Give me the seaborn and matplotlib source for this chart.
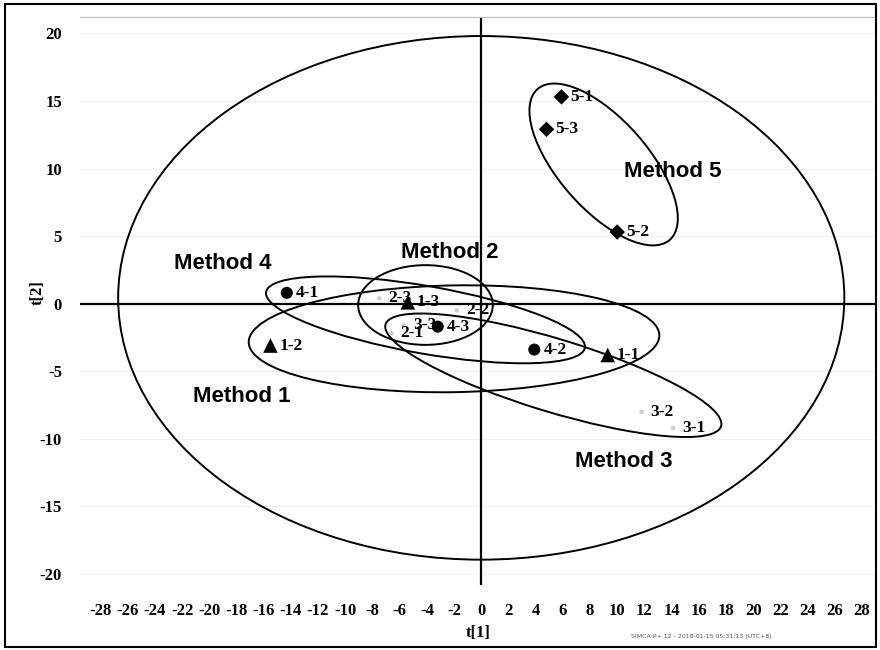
import matplotlib
matplotlib.use('Agg')
import matplotlib.pyplot as plt
from matplotlib.patches import Ellipse, Rectangle
import seaborn as sns
import pandas as pd

# scores
labels = ['1-1', '1-2', '1-3', '2-1', '2-2', '2-3', '3-1', '3-2', '3-3',
          '4-1', '4-2', '4-3', '5-1', '5-2', '5-3']
methods = ['1'] * 3 + ['2'] * 3 + ['3'] * 3 + ['4'] * 3 + ['5'] * 3
t1 = [9.3, -15.5, -5.4, -6.6, -1.8, -7.5, 14.1, 11.8, -5.7,
      -14.3, 3.9, -3.2, 5.9, 10.0, 4.8]
t2 = [-3.8, -3.1, 0.1, -2.2, -0.5, 0.4, -9.2, -8.0, -1.6,
      0.8, -3.4, -1.7, 15.3, 5.3, 12.9]

# ellipses: Hotelling T2, then methods 1-5 (centre, full width, full height, angle)
ell_cx = [0.0, -2.0, -4.1, 5.3, -4.1, 9.0]
ell_cy = [0.43, -2.6, -0.1, -5.3, -1.2, 10.3]
ell_w = [53.4, 30.2, 9.9, 25.8, 23.8, 14.8]
ell_h = [38.75, 7.9, 5.9, 5.4, 5.0, 6.6]
ell_ang = [0, 1, 0, -17, -10, -49]

group_names = ['Method 1', 'Method 2', 'Method 3', 'Method 4', 'Method 5']
group_x = [-17.6, -2.3, 10.5, -19.0, 14.1]
group_y = [-6.9, 3.75, -11.7, 3.0, 9.8]

xticks = list(range(-28, 29, 2))
yticks = list(range(-20, 21, 5))

df = pd.DataFrame({'t1': t1, 't2': t2, 'label': labels, 'method': methods})

sns.set_style('white')
fig = plt.figure(figsize=(8.8, 6.5), dpi=100)
ax = fig.add_axes([0.091, 0.1, 0.904, 0.874])

marker_map = {'1': '^', '2': 'o', '3': 'o', '4': 'o', '5': 'D'}
color_map = {'1': 'black', '2': '#d0d0d0', '3': '#d0d0d0', '4': 'black', '5': 'black'}
size_map = {'1': 110, '2': 12, '3': 12, '4': 75, '5': 62}

sns.scatterplot(data=df, x='t1', y='t2', hue='method', style='method', size='method',
                markers=marker_map, palette=color_map, sizes=size_map,
                edgecolor='none', legend=False, ax=ax, zorder=4)

for x, y, lab in zip(t1, t2, labels):
    ax.annotate(lab, (x, y), xytext=(6.5, 0), textcoords='offset points',
                va='center', ha='left', fontsize=12.5, family='Liberation Serif',
                fontweight='bold', color='black', zorder=5)

for cx, cy, w, h, a in zip(ell_cx, ell_cy, ell_w, ell_h, ell_ang):
    ax.add_patch(Ellipse((cx, cy), w, h, angle=a, fill=False, lw=1.4,
                         edgecolor='black', zorder=3))

for name, x, y in zip(group_names, group_x, group_y):
    ax.text(x, y, name, ha='center', va='center', fontsize=16, fontweight='bold',
            family='Liberation Sans', color='black', zorder=6)

ax.axhline(0, color='black', lw=1.6, zorder=2)
ax.axvline(0, color='black', lw=1.6, zorder=2)

ax.set_xlim(-29.5, 29.0)
ax.set_ylim(-20.82, 21.22)
ax.set_xticks(xticks)
ax.set_yticks(yticks)
ax.set_xticklabels([str(v) for v in xticks], family='Liberation Serif',
                   fontweight='bold', fontsize=12, color='black')
ax.set_yticklabels([str(v) for v in yticks], family='Liberation Serif',
                   fontweight='bold', fontsize=12, color='black')
ax.tick_params(axis='both', length=3, color='#aaaaaa', pad=10)
ax.grid(axis='y', color='#f2f2f2', lw=0.8)
ax.set_axisbelow(True)

ax.set_xlabel('t[1]', family='Liberation Serif', fontsize=12, fontweight='bold',
              labelpad=4, color='black')
ax.set_ylabel('t[2]', family='Liberation Serif', fontsize=12, fontweight='bold',
              color='black')
ax.yaxis.set_label_coords(-0.043, 0.515)

for s in ['left', 'bottom', 'right']:
    ax.spines[s].set_visible(False)
ax.spines['top'].set_color('#bbbbbb')

fig.text(0.797, 0.018, 'SIMCA-P+ 12 - 2018-01-15 05:31:13 (UTC+8)',
         fontsize=4.5, color='#555555', ha='center')
fig.patches.append(Rectangle((0.006, 0.004), 0.99, 0.99, transform=fig.transFigure,
                             fill=False, lw=1.5, edgecolor='black'))

fig.savefig('out.png', dpi=100)
